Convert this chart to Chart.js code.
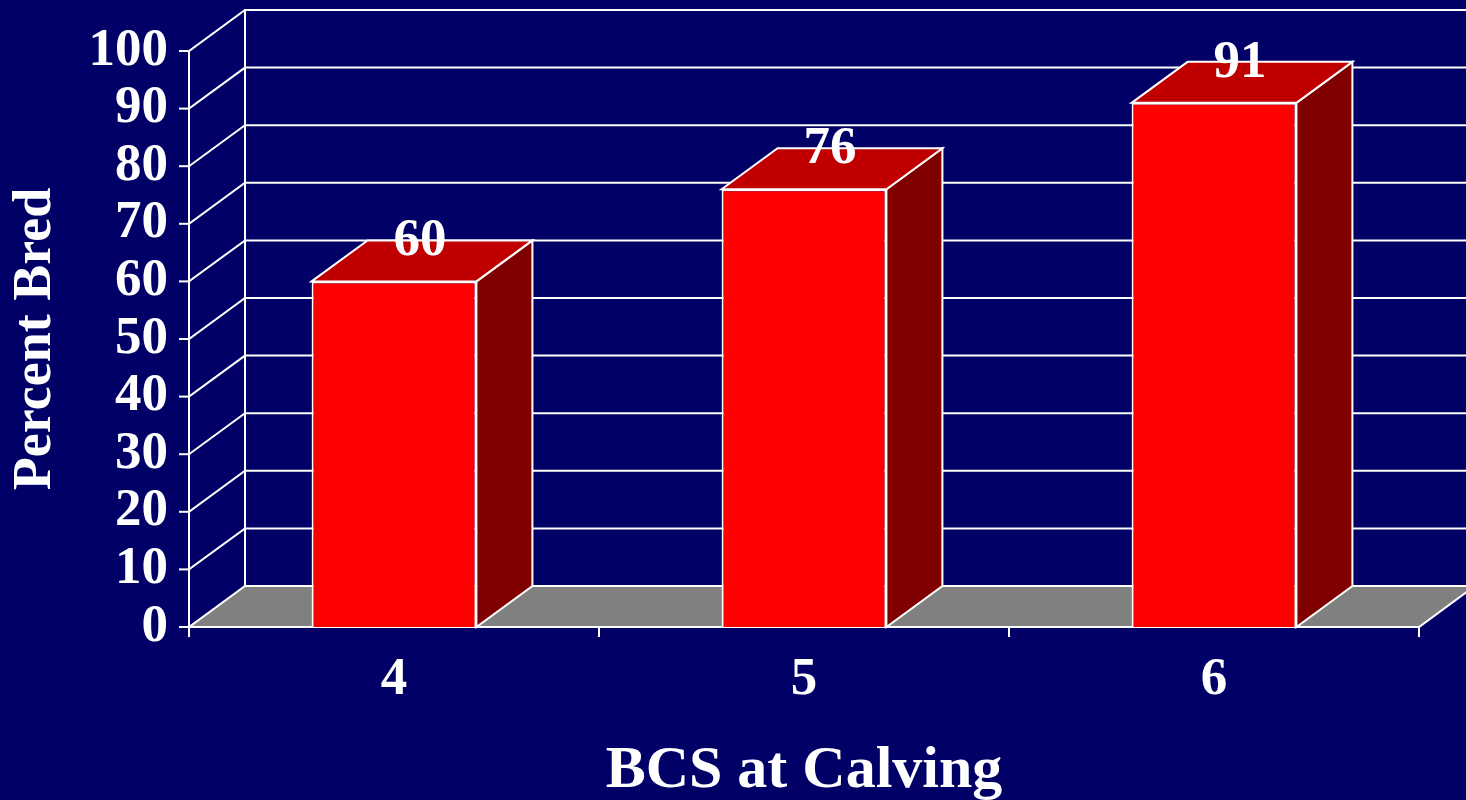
<!DOCTYPE html>
<html>
<head>
<meta charset="utf-8">
<title>Percent Bred by BCS at Calving</title>
<script src="https://cdn.jsdelivr.net/npm/chart.js@4/dist/chart.umd.min.js"></script>
<style>
  html, body { margin: 0; padding: 0; background: #000066; }
  canvas { display: block; }
</style>
</head>
<body>
<canvas id="chart" width="1466" height="800"></canvas>
<script>
// Body condition score at calving and the share of cows bred
const categories = ['4', '5', '6'];
const percentBred = [60, 76, 91];
const yMin = 0;
const yMax = 100;
const yStep = 10;

// Look of the pseudo-3D box
const DEPTH_X = 56;
const DEPTH_Y = -41;
const FONT = '"Liberation Serif", "Times New Roman", serif';
const BG = '#000066';
const WHITE = '#ffffff';

const threeD = {
  id: 'threeD',
  beforeDraw(chart) {
    const ctx = chart.ctx;
    ctx.save();
    ctx.fillStyle = BG;
    ctx.fillRect(0, 0, chart.width, chart.height);
    ctx.restore();
  },
  beforeDatasetsDraw(chart) {
    const ctx = chart.ctx;
    const { left, right, top, bottom } = chart.chartArea;
    const ys = chart.scales.y;
    const xs = chart.scales.x;
    ctx.save();
    ctx.lineWidth = 2;
    ctx.strokeStyle = WHITE;
    ctx.lineCap = 'square';

    // floor
    ctx.fillStyle = '#808080';
    ctx.beginPath();
    ctx.moveTo(left, bottom);
    ctx.lineTo(right, bottom);
    ctx.lineTo(right + DEPTH_X, bottom + DEPTH_Y);
    ctx.lineTo(left + DEPTH_X, bottom + DEPTH_Y);
    ctx.closePath();
    ctx.fill();
    ctx.beginPath();
    ctx.moveTo(right, bottom);
    ctx.lineTo(right + DEPTH_X, bottom + DEPTH_Y);
    ctx.stroke();

    // back wall: left edge, gridlines and the diagonals to the front axis
    ctx.beginPath();
    ctx.moveTo(left + DEPTH_X, bottom + DEPTH_Y);
    ctx.lineTo(left + DEPTH_X, top + DEPTH_Y);
    ctx.stroke();
    ys.ticks.forEach(t => {
      const py = ys.getPixelForValue(t.value);
      ctx.beginPath();
      ctx.moveTo(left, py);
      ctx.lineTo(left + DEPTH_X, py + DEPTH_Y);
      ctx.lineTo(chart.width + 5, py + DEPTH_Y);
      ctx.stroke();
      // tick mark on the front value axis
      ctx.beginPath();
      ctx.moveTo(left - 9, py);
      ctx.lineTo(left, py);
      ctx.stroke();
    });

    // front axes
    ctx.beginPath();
    ctx.moveTo(left, top);
    ctx.lineTo(left, bottom + 9);
    ctx.moveTo(left, bottom);
    ctx.lineTo(right, bottom);
    ctx.stroke();
    // category boundary ticks
    const n = categories.length;
    const step = (xs.getPixelForValue(n - 1) - xs.getPixelForValue(0)) / Math.max(n - 1, 1);
    for (let i = 0; i <= n; i++) {
      const px = xs.getPixelForValue(0) - step / 2 + i * step;
      ctx.beginPath();
      ctx.moveTo(px, bottom);
      ctx.lineTo(px, bottom + 9);
      ctx.stroke();
    }

    // bar sides and tops
    const meta = chart.getDatasetMeta(0);
    meta.data.forEach(bar => {
      const { x, y, base, width } = bar.getProps(['x', 'y', 'base', 'width'], true);
      const l = x - width / 2;
      const r = x + width / 2;
      ctx.fillStyle = '#800000';
      ctx.beginPath();
      ctx.moveTo(r, y);
      ctx.lineTo(r + DEPTH_X, y + DEPTH_Y);
      ctx.lineTo(r + DEPTH_X, base + DEPTH_Y);
      ctx.lineTo(r, base);
      ctx.closePath();
      ctx.fill();
      ctx.stroke();
      ctx.fillStyle = '#c00000';
      ctx.beginPath();
      ctx.moveTo(l, y);
      ctx.lineTo(l + DEPTH_X, y + DEPTH_Y);
      ctx.lineTo(r + DEPTH_X, y + DEPTH_Y);
      ctx.lineTo(r, y);
      ctx.closePath();
      ctx.fill();
      ctx.stroke();
    });
    ctx.restore();
  },
  afterDatasetsDraw(chart) {
    const ctx = chart.ctx;
    const meta = chart.getDatasetMeta(0);
    const values = chart.data.datasets[0].data;
    ctx.save();
    ctx.fillStyle = WHITE;
    ctx.font = 'bold 53px ' + FONT;
    ctx.textAlign = 'center';
    ctx.textBaseline = 'middle';
    meta.data.forEach((bar, i) => {
      const { x, y } = bar.getProps(['x', 'y'], true);
      ctx.fillText(String(values[i]), x + DEPTH_X / 2 - 2, y + DEPTH_Y + 1);
    });
    ctx.restore();
  }
};

new Chart(document.getElementById('chart'), {
  type: 'bar',
  data: {
    labels: categories,
    datasets: [{
      label: 'Percent Bred',
      data: percentBred,
      backgroundColor: '#ff0000',
      borderColor: WHITE,
      borderWidth: 2,
      categoryPercentage: 1,
      barPercentage: 0.402
    }]
  },
  options: {
    responsive: false,
    devicePixelRatio: 1,
    animation: false,
    layout: { padding: { left: 0, top: 51, right: 47, bottom: 0 } },
    plugins: {
      legend: { display: false },
      tooltip: { enabled: false }
    },
    scales: {
      x: {
        offset: true,
        grid: { display: false, drawTicks: true, tickLength: 9 },
        border: { display: false },
        ticks: {
          color: WHITE,
          padding: 13,
          font: { family: FONT, weight: 'bold', size: 53 }
        },
        title: {
          display: true,
          text: 'BCS at Calving',
          color: WHITE,
          padding: { top: 0, bottom: 0 },
          font: { family: FONT, weight: 'bold', size: 60, lineHeight: 0.95 }
        },
        afterFit(scale) { scale.height = 173; }
      },
      y: {
        min: yMin,
        max: yMax,
        grid: { display: false, drawTicks: true, tickLength: 9 },
        border: { display: false },
        ticks: {
          stepSize: yStep,
          autoSkip: false,
          color: WHITE,
          padding: 12,
          font: { family: FONT, weight: 'bold', size: 53 }
        },
        title: {
          display: true,
          text: 'Percent Bred',
          color: WHITE,
          padding: { top: 2, bottom: 0 },
          font: { family: FONT, weight: 'bold', size: 54, lineHeight: 1.25 }
        },
        afterFit(scale) { scale.width = 189; }
      }
    }
  },
  plugins: [threeD]
});
</script>
</body>
</html>
